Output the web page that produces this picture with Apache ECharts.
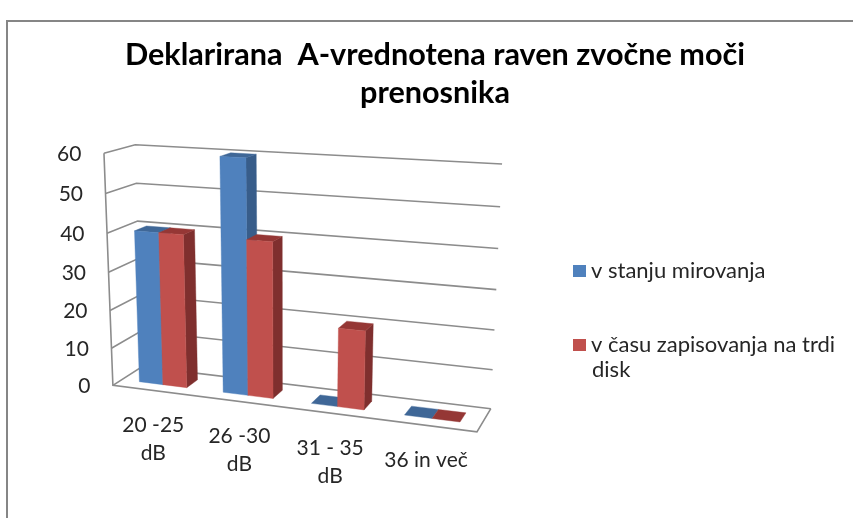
<!DOCTYPE html>
<html>
<head>
<meta charset="utf-8">
<style>html,body{margin:0;padding:0;background:#fff}#c{width:853px;height:518px}</style>
<script src="https://cdn.jsdelivr.net/npm/echarts@6/dist/echarts.min.js"></script>
</head>
<body>
<div id="c"></div>
<script>
const categories = ['20 -25\ndB', '26 -30\ndB', '31 - 35\ndB', '36 in več'];
const seriesIdle = [40, 60, 0, 0];
const seriesWrite = [40, 40, 20, 0];
const nameIdle = 'v stanju mirovanja';
const nameWrite = 'v času zapisovanja na trdi disk';
const valueTicks = [0, 10, 20, 30, 40, 50, 60];
const titleText = 'Deklarirana  A-vrednotena raven zvočne moči\nprenosnika';

const FONT = 'Lato';
const TEXT = '#262626';
const GRIDC = '#8c8c8c';

// Camera calibration of the 3D box: [u, v, w, px, py]; u along categories, v up, w in depth.
const anchors = [
  [0,0,0,113.3,385],[0,1/6,0,112.3,347.3],[0,2/6,0,110.7,310],[0,3/6,0,109,272.7],[0,4/6,0,107,233.3],[0,5/6,0,105,193.3],[0,1,0,102.3,153.3],
  [0,0,1,140,368],[0,4/6,1,139,220.7],[0,5/6,1,137.3,183.3],[0,1,1,135,145],
  [1,0,1,490.7,407.3],[1,1/6,1,492.7,369.3],[1,2/6,1,494.7,330],[1,3/6,1,496.7,290],[1,4/6,1,498.3,248.7],[1,5/6,1,500,206.7],[1,1,1,501.7,164],
  [1,0,0,476.7,433.3]
];
function solve(A, b) {
  const n = b.length, M = A.map((r, i) => r.concat(b[i]));
  for (let c = 0; c < n; c++) {
    let p = c;
    for (let r = c + 1; r < n; r++) if (Math.abs(M[r][c]) > Math.abs(M[p][c])) p = r;
    [M[c], M[p]] = [M[p], M[c]];
    for (let r = 0; r < n; r++) {
      if (r === c) continue;
      const f = M[r][c] / M[c][c];
      for (let k = c; k <= n; k++) M[r][k] -= f * M[c][k];
    }
  }
  return M.map((r, i) => r[n] / r[i]);
}
const cam = (function () {
  const rows = [], rhs = [];
  anchors.forEach(([u, v, w, X, Y]) => {
    const x = X / 500, y = Y / 500;
    rows.push([u, v, w, 1, 0, 0, 0, 0, -x * u, -x * v, -x * w]); rhs.push(x);
    rows.push([0, 0, 0, 0, u, v, w, 1, -y * u, -y * v, -y * w]); rhs.push(y);
  });
  const N = 11, A = [], b = [];
  for (let i = 0; i < N; i++) {
    A.push([]);
    let s = 0;
    for (let r = 0; r < rows.length; r++) s += rows[r][i] * rhs[r];
    b.push(s);
    for (let j = 0; j < N; j++) {
      let t = 0;
      for (let r = 0; r < rows.length; r++) t += rows[r][i] * rows[r][j];
      A[i].push(t);
    }
  }
  return solve(A, b);
})();
function project(u, v, w) {
  const d = cam[8] * u + cam[9] * v + cam[10] * w + 1;
  return [500 * (cam[0] * u + cam[1] * v + cam[2] * w + cam[3]) / d,
          500 * (cam[4] * u + cam[5] * v + cam[6] * w + cam[7]) / d];
}
// library scale -> unit box coordinates
function unit(api, params, cat, val) {
  const p = api.coord([cat, val]), g = params.coordSys;
  return [(p[0] - g.x) / g.width, 1 - (p[1] - g.y) / g.height];
}
const GAP = 1.5 / 3.5 / 2, BW = 1 / 3.5, W0 = 0.3, W1 = 0.7;

function poly(pts, fill) {
  return { type: 'polygon', shape: { points: pts }, style: { fill: fill, stroke: fill, lineWidth: 0.4 }, silent: true };
}
function barRenderer(k, front, side, top) {
  return function (params, api) {
    const cat = api.value(0), val = api.value(1);
    const a = unit(api, params, cat + GAP + k * BW, 0);
    const b = unit(api, params, cat + GAP + (k + 1) * BW, val);
    const P = (u, v, w) => project(u, v, w);
    const ch = [];
    if (b[1] > 0.0001) {
      ch.push(poly([P(b[0], a[1], W0), P(b[0], a[1], W1), P(b[0], b[1], W1), P(b[0], b[1], W0)], side));
    }
    ch.push(poly([P(a[0], b[1], W0), P(b[0], b[1], W0), P(b[0], b[1], W1), P(a[0], b[1], W1)], top));
    if (b[1] > 0.0001) {
      ch.push(poly([P(a[0], a[1], W0), P(b[0], a[1], W0), P(b[0], b[1], W0), P(a[0], b[1], W0)], front));
    }
    return { type: 'group', children: ch };
  };
}
function line(pts) {
  return { type: 'polyline', shape: { points: pts }, style: { fill: null, stroke: GRIDC, lineWidth: 1.6 }, silent: true };
}
function gridRenderer(params, api) {
  const t = api.value(0);
  const v = unit(api, params, 0, t)[1];
  const ch = [line([project(0, v, 0), project(0, v, 1), project(1, v, 1)])];
  if (params.dataIndex === 0) {
    const top = unit(api, params, 0, valueTicks[valueTicks.length - 1])[1];
    ch.push(line([project(0, top, 0), project(0, 0, 0), project(1, 0, 0), project(1, 0, 1)]));
  }
  const p = project(0, v, 0);
  ch.push({ type: 'text', silent: true, style: { text: String(t), x: p[0] - 22.5, y: p[1] + 1, align: 'right', verticalAlign: 'middle', font: '21px ' + FONT, fill: TEXT } });
  return { type: 'group', children: ch };
}
function catLabelRenderer(params, api) {
  const i = api.value(0);
  const u = unit(api, params, i + 0.5, 0)[0];
  const p = project(u, 0, 0);
  return { type: 'text', silent: true, style: { text: categories[i], x: p[0] - 1, y: p[1] + 21, align: 'center', verticalAlign: 'top',
    font: '21px ' + FONT, fill: TEXT, lineHeight: 28 } };
}

const chart = echarts.init(document.getElementById('c'), null, { renderer: 'canvas' });
chart.setOption({
  animation: false,
  backgroundColor: '#fff',
  title: {
    text: titleText, left: 430, top: 31, textAlign: 'center',
    textStyle: { fontFamily: FONT, fontWeight: 'bold', fontSize: 30.6, lineHeight: 38, color: '#000' }
  },
  legend: {
    orient: 'vertical', left: 573, top: 260, padding: 0, itemWidth: 13, itemHeight: 12, itemGap: 52, icon: 'rect',
    data: [nameIdle, nameWrite],
    formatter: n => n === nameWrite ? 'v času zapisovanja na trdi' : n,
    textStyle: { fontFamily: FONT, fontSize: 22, color: TEXT, lineHeight: 20 }, selectedMode: false
  },
  grid: { left: 100, top: 100, width: 400, height: 300, show: false },
  xAxis: { type: 'value', min: 0, max: categories.length, show: false },
  yAxis: { type: 'value', min: 0, max: 60, interval: 10, show: false },
  graphic: [
    { type: 'polyline', shape: { points: [[7, 518], [7, 21], [853, 21]] }, style: { fill: null, stroke: '#868686', lineWidth: 2 }, silent: true },
    { type: 'text', left: 592, top: 359, style: { text: 'disk', font: '22px ' + FONT, fill: TEXT } }
  ],
  series: [
    { type: 'custom', name: 'grid', silent: true, z: 1, renderItem: gridRenderer, data: valueTicks.map(t => [t]), encode: { y: 0 }, clip: false },
    { type: 'custom', name: 'labels', silent: true, z: 1, renderItem: catLabelRenderer, data: categories.map((c, i) => [i]), encode: { x: 0 }, clip: false },
    { type: 'custom', name: nameIdle, z: 3, renderItem: barRenderer(0, '#4F81BD', '#385D8A', '#3F6797'), data: seriesIdle.map((v, i) => [i, v]), encode: { x: 0, y: 1 }, itemStyle: { color: '#4F81BD' }, clip: false },
    { type: 'custom', name: nameWrite, z: 4, renderItem: barRenderer(1, '#C0504D', '#7F2F2E', '#953735'), data: seriesWrite.map((v, i) => [i, v]), encode: { x: 0, y: 1 }, itemStyle: { color: '#C0504D' }, clip: false }
  ]
});
</script>
</body>
</html>
